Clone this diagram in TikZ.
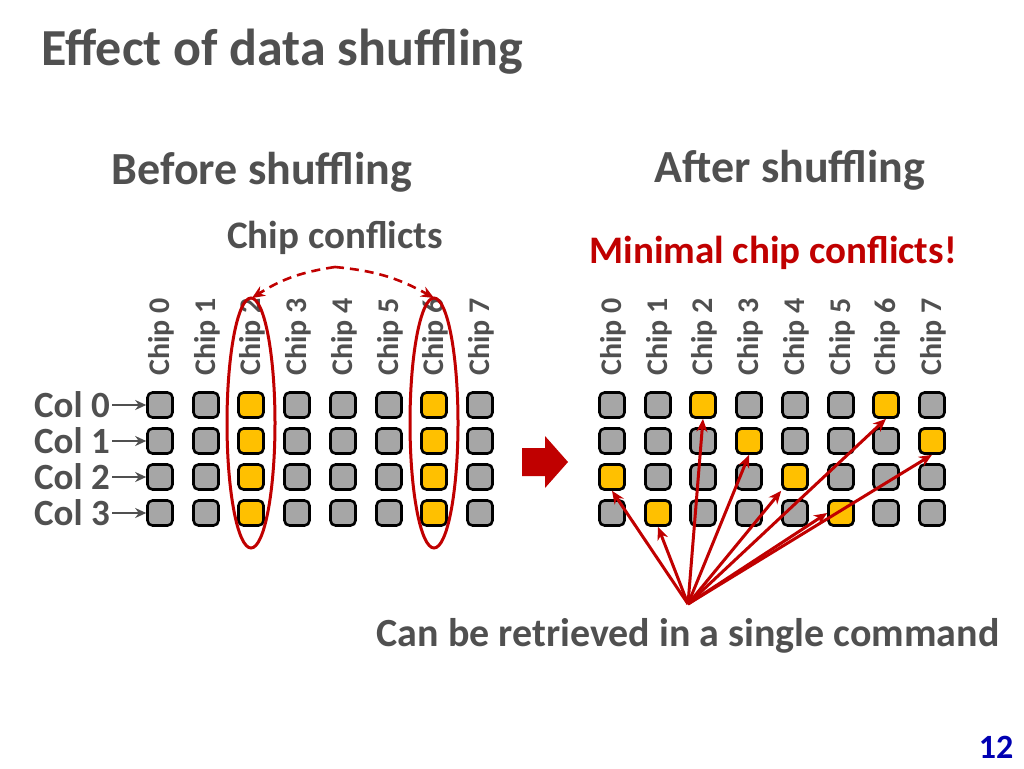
\documentclass[tikz,border=0pt]{standalone}
\usepackage{fontspec}
\setmainfont{Carlito}
\usetikzlibrary{arrows.meta}
\definecolor{txt}{HTML}{505050}
\definecolor{dred}{HTML}{C00000}
\definecolor{yel}{HTML}{FFC000}
\definecolor{gr}{HTML}{A6A6A6}
\tikzset{
 cell/.style={draw=black,line width=2.6pt,rounded corners=5pt,minimum size=25pt,inner sep=0pt,fill=gr},
 hot/.style={cell,fill=yel},
 chiplab/.style={rotate=90,anchor=west,font=\fontsize{30}{30}\bfseries,text=txt,inner sep=0pt},
 ptr/.style={-{Stealth[length=13pt,width=11pt]},dred,line width=3pt},
}
\begin{document}
\begin{tikzpicture}[x=1pt,y=-1pt]
\useasboundingbox (0,0) rectangle (1024,768);
\node[anchor=west,font=\fontsize{52}{52}\bfseries,text=txt] (title) at (38,52) {Effect of data shuffling};
\node[font=\fontsize{46}{46}\bfseries,text=txt] (bh) at (262,172) {Before shuffling};
\node[font=\fontsize{46}{46}\bfseries,text=txt] (ah) at (790,170) {After shuffling};
\node[font=\fontsize{39}{39}\bfseries,text=txt] (cc) at (335,238) {Chip conflicts};
\node[font=\fontsize{39}{39}\bfseries,text=dred] (mc) at (773,253) {Minimal chip conflicts!};
\node[font=\fontsize{40}{40}\bfseries,text=txt] (cr) at (688,636) {Can be retrieved in a single command};
\node[font=\fontsize{34}{34}\bfseries,text=blue!70!black] (pg) at (996,747) {12};
% grids
\foreach \c/\x in {0/160,1/206,2/251,3/297,4/343,5/389,6/434,7/480}{
  \node[chiplab] (L\c) at (\x+1,376) {Chip \c};
  \node[chiplab] (R\c) at (\x+453,376) {Chip \c};
  \foreach \r/\y in {0/405,1/441,2/477,3/513}{
    \ifnum\c=2 \node[hot] (a\r\c) at (\x,\y) {};
    \else\ifnum\c=6 \node[hot] (a\r\c) at (\x,\y) {};
    \else \node[cell] (a\r\c) at (\x,\y) {};\fi\fi
    \node[cell] (b\r\c) at (\x+452,\y) {};
  }
}
\foreach \r/\c in {0/2,0/6,1/3,1/7,2/0,2/4,3/1,3/5}{\node[hot] at (b\r\c) {};}
\foreach \r/\y in {0/405,1/441,2/477,3/513}{
  \node[anchor=east,font=\fontsize{37}{37}\bfseries,text=txt,inner sep=0pt] (col\r) at (110,\y) {Col \r};
  \draw[-{Stealth[length=11pt,width=10pt]},txt,line width=2.6pt] (col\r.east) ++(2,0) -- (a\r0.west);
}
% ellipses
\draw[dred,line width=3pt] (251,423) ellipse [x radius=24,y radius=125];
\draw[dred,line width=3pt] (434,423) ellipse [x radius=24,y radius=125];
\coordinate (cp) at (335,267);
\coordinate (e1) at (252,298);
\coordinate (e2) at (434,298);
\draw[dred,dash pattern=on 9pt off 6pt,line width=2.6pt,-{Stealth[length=13pt,width=11pt]}] (cp) to[bend right=12] (e1);
\draw[dred,dash pattern=on 9pt off 6pt,line width=2.6pt,-{Stealth[length=13pt,width=11pt]}] (cp) to[bend left=12] (e2);
% big arrow
\fill[dred] (522,448) -- (545,448) -- (545,436) -- (568,462) -- (545,488) -- (545,476) -- (522,476) -- cycle;
% pointers
\coordinate (src) at (688,604);
\draw[ptr] (src) -- (b20.south);
\draw[ptr] (src) -- (b31.south);
\draw[ptr] (src) -- (b02.south);
\draw[ptr] (src) -- (b13.south);
\draw[ptr] (src) -- (b24.south west);
\draw[ptr] (src) -- (b35.west);
\draw[ptr] (src) -- (b06.south);
\draw[ptr] (src) -- (b17.south);
\end{tikzpicture}
\end{document}
